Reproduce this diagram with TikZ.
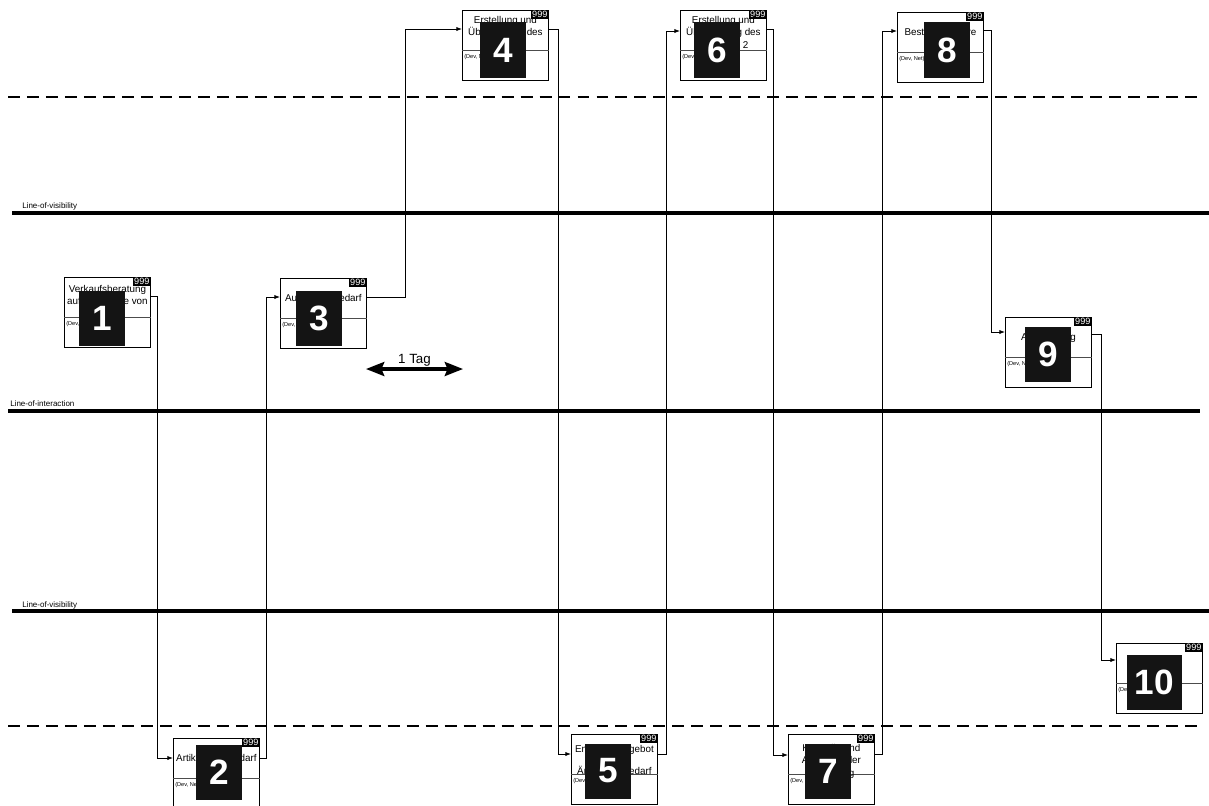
\documentclass[tikz,border=0pt]{standalone}
\usepackage{fontspec}
\setmainfont{Liberation Sans}
\usetikzlibrary{arrows.meta,calc}

\tikzset{
  karte/.style={draw,line width=0.6pt,fill=white,minimum width=2.15cm,minimum height=1.75cm,inner sep=0pt,anchor=north west},
  kennung/.style={fill=black,text=white,inner sep=0.8pt,font=\fontsize{6.5}{6.5}\selectfont,anchor=north east},
  kartentext/.style={align=center,inner sep=0pt,font=\fontsize{7}{8.9}\selectfont},
  notiz/.style={inner sep=0pt,font=\fontsize{4}{4}\selectfont,anchor=north west},
  nummer/.style={fill=black!92,text=white,minimum width=1.15cm,minimum height=1.375cm,inner sep=0pt,font=\fontsize{25}{25}\selectfont\bfseries},
  fluss/.style={line width=0.6pt,-{Latex[length=4pt,width=3pt]}},
  ebene/.style={line width=2.2pt},
  trenn/.style={line width=2pt,dash pattern=on 8.5pt off 5pt},
  ebenentext/.style={inner sep=0pt,anchor=west,font=\fontsize{5.7}{6}\selectfont},
  tagpfeil/.style={line width=2.2pt,{Stealth[length=13pt,width=10pt,inset=2pt]}-{Stealth[length=13pt,width=10pt,inset=2pt]}}
}

% #1 name, #2 top left, #3 text centre below top, #4 text, #5 note
\newcommand{\schritt}[5]{%
  \node[karte] (#1) at (#2) {};
  \node[kennung] (#1-id) at (#1.north east) {999};
  \draw[line width=0.6pt,black!70] ($(#1.north west)+(0,40)$) -- ($(#1.north east)+(0,40)$);
  \node[kartentext] (#1-text) at ($(#1.north)+(0,#3)$) {#4};
  \node[notiz] (#1-notiz) at ($(#1.north west)+(2,44)$) {#5};
}

\begin{document}
\begin{tikzpicture}[x=0.025cm,y=-0.025cm]
\useasboundingbox (0,0) rectangle (1209,805);

% Ebenen
\draw[trenn] (8,97) -- (1200,97);
\node[ebenentext] (lov-oben) at (22,206) {Line-of-visibility};
\draw[ebene] (12,213) -- (1209,213);
\node[ebenentext] (loi) at (10,404) {Line-of-interaction};
\draw[ebene] (8,411) -- (1200,411);
\node[ebenentext] (lov-unten) at (22,605) {Line-of-visibility};
\draw[ebene] (12,611) -- (1209,611);
\draw[trenn] (8,726) -- (1200,726);

% Schritte
\schritt{k1}{64,277}{19}{Verkaufsberatung\\auf Nachfrage von}{(Dev, Net)}
\schritt{k2}{173,738}{20}{Artikulation Bedarf}{(Dev, Net)}
\schritt{k3}{280,278}{20}{Aufnahme Bedarf}{(Dev, Net)}
\schritt{k4}{462,10}{23}{Erstellung und\\Übermittlung des\\Angebots}{(Dev, Net)}
\schritt{k5}{571,734}{27}{Empfang Angebot\\[7pt]Änderung Bedarf}{(Dev. Net)}
\schritt{k6}{680,10}{23}{Erstellung und\\Übermittlung des\\Angebots 2}{(Dev, Net)}
\schritt{k7}{788,734}{27}{Kontrolle und\\Annahme der\\Bestellung}{(Dev, Net)}
\schritt{k8}{897,12}{21}{Bestellung Ware}{(Dev, Net)}
\schritt{k9}{1005,317}{21}{Auslieferung}{(Dev, Net)}
\schritt{k10}{1116,643}{20}{Rechnung}{(Dev, Net)}

% Nummern
\node[nummer] (n1) at (102,318) {1};
\node[nummer] (n2) at (219,772) {2};
\node[nummer] (n3) at (319,318) {3};
\node[nummer] (n4) at (503,50) {4};
\node[nummer] (n5) at (608,771) {5};
\node[nummer] (n6) at (717,50) {6};
\node[nummer] (n7) at (828,771) {7};
\node[nummer] (n8) at (947,50) {8};
\node[nummer] (n9) at (1048,354) {9};
\node[nummer,minimum width=1.375cm] (n10) at (1154,682) {10};

% Ablauf
\draw[fluss] ($(k1.north east)+(0,19)$) -- ++(7,0) |- ($(k2.north west)+(0,20)$);
\draw[fluss] ($(k2.north east)+(0,20)$) -- ++(7,0) |- ($(k3.north west)+(0,19)$);
\draw[fluss] ($(k3.north east)+(0,19)$) -- ++(39,0) |- ($(k4.north west)+(0,19)$);
\draw[fluss] ($(k4.north east)+(0,19)$) -- ++(10,0) |- ($(k5.north west)+(0,20)$);
\draw[fluss] ($(k5.north east)+(0,20)$) -- ++(9,0) |- ($(k6.north west)+(0,21)$);
\draw[fluss] ($(k6.north east)+(0,19)$) -- ++(7,0) |- ($(k7.north west)+(0,21)$);
\draw[fluss] ($(k7.north east)+(0,20)$) -- ++(8,0) |- ($(k8.north west)+(0,19)$);
\draw[fluss] ($(k8.north east)+(0,18)$) -- ++(8,0) |- ($(k9.north west)+(0,15)$);
\draw[fluss] ($(k9.north east)+(0,17)$) -- ++(10,0) |- ($(k10.north west)+(0,17)$);

% Zeitmassstab
\coordinate (tag-a) at (366,369);
\coordinate (tag-b) at (463,369);
\draw[tagpfeil] (tag-a) -- (tag-b) node[midway,above=1pt,font=\fontsize{9.5}{10}\selectfont,inner sep=0pt] (tag-text) {1 Tag};
\end{tikzpicture}
\end{document}
